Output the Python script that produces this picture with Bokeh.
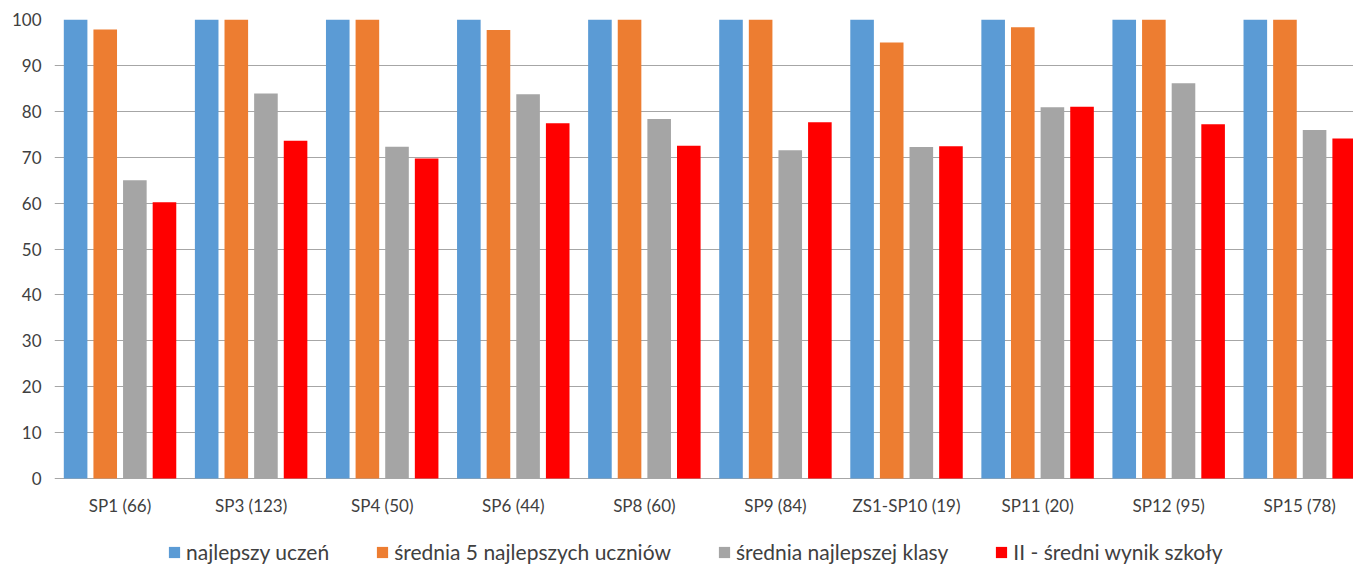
import numpy as np
from bokeh.plotting import figure
from bokeh.models import Range1d, FixedTicker, Legend, LegendItem
from bokeh.core.properties import value
from bokeh.embed import file_html
from bokeh.resources import INLINE

categories = ["SP1 (66)", "SP3 (123)", "SP4 (50)", "SP6 (44)", "SP8 (60)",
              "SP9 (84)", "ZS1-SP10 (19)", "SP11 (20)", "SP12 (95)", "SP15 (78)"]
najlepszy_uczen = [100, 100, 100, 100, 100, 100, 100, 100, 100, 100]
srednia_5 = [97.8, 100, 100, 97.7, 100, 100, 95.0, 98.3, 100, 100]
srednia_klasy = [65.0, 83.9, 72.3, 83.7, 78.3, 71.5, 72.2, 80.9, 86.1, 75.9]
sredni_wynik = [60.2, 73.6, 69.7, 77.4, 72.5, 77.6, 72.4, 81.0, 77.2, 74.1]
series_names = ["najlepszy uczeń", "średnia 5 najlepszych uczniów",
                "średnia najlepszej klasy", "II - średni wynik szkoły"]
colors = ["#5B9BD5", "#ED7D31", "#A5A5A5", "#FF0000"]
y_ticks = list(range(0, 101, 10))

FONT = "Lato"
TXT = "#404040"

FRAME_H = 545
PX_PER_UNIT = 4.59
y_min = -(FRAME_H - 100 * PX_PER_UNIT) / PX_PER_UNIT

p = figure(frame_width=1299, frame_height=FRAME_H, output_backend="svg",
           toolbar_location=None, x_axis_location=None,
           x_range=Range1d(0, 9.91), y_range=Range1d(y_min, 100),
           min_border_left=54, min_border_right=0, min_border_top=19,
           min_border_bottom=0)
p.outline_line_color = None
p.background_fill_color = "white"

centers = np.arange(len(categories)) + 0.5
offsets = [-0.339, -0.113, 0.113, 0.339]
bar_w = 0.18
renderers = []
for vals, off, col in zip([najlepszy_uczen, srednia_5, srednia_klasy, sredni_wynik],
                          offsets, colors):
    r = p.vbar(x=centers + off, top=vals, bottom=0, width=bar_w,
               fill_color=col, line_color=None)
    renderers.append(r)

p.xgrid.grid_line_color = None
p.ygrid.grid_line_color = "#A6A6A6"
p.ygrid.grid_line_width = 1
p.yaxis.ticker = FixedTicker(ticks=y_ticks)
p.yaxis.axis_line_color = None
p.yaxis.major_tick_line_color = None
p.yaxis.minor_tick_line_color = None
p.yaxis.major_label_standoff = 7
p.yaxis.major_label_text_font = FONT
p.yaxis.major_label_text_font_size = "17px"
p.yaxis.major_label_text_color = TXT

# category labels under the baseline
p.text(x=centers, y=[0] * len(categories), text=categories, y_offset=27,
       text_align="center", text_baseline="middle",
       text_font=value(FONT), text_font_size="17px", text_color=TXT)

legend = Legend(items=[LegendItem(label=n, renderers=[r]) for n, r in zip(series_names, renderers)],
                orientation="horizontal", location=(113, 0),
                glyph_width=14, glyph_height=14, label_standoff=5, spacing=46,
                label_text_font=FONT, label_text_font_size="21px",
                label_text_color=TXT, border_line_color=None,
                background_fill_alpha=0, padding=0, margin=0)
p.add_layout(legend, "center")

open("out.html", "w").write(file_html(p, INLINE))
